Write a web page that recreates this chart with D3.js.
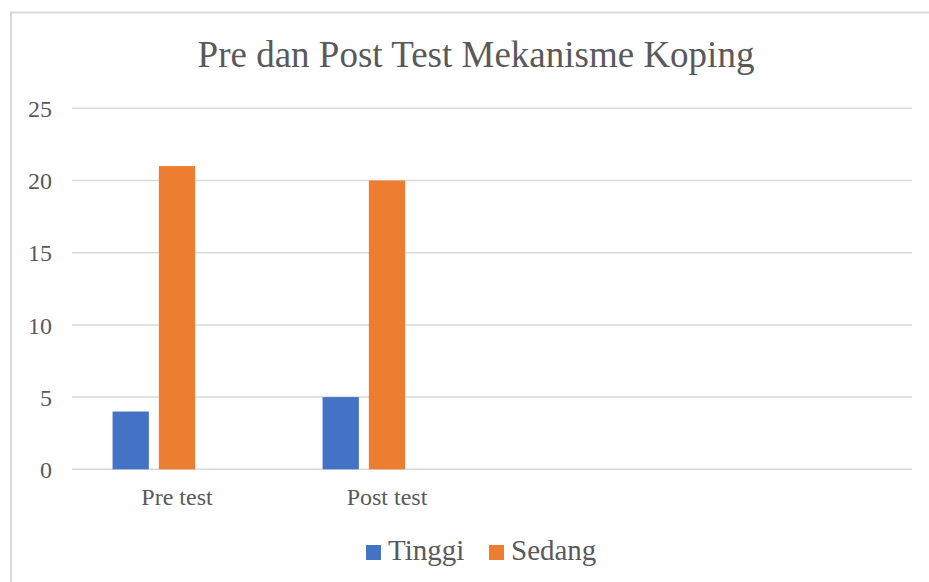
<!DOCTYPE html>
<html>
<head>
<meta charset="utf-8">
<script src="https://cdn.jsdelivr.net/npm/d3@7"></script>
<style>
  html, body { margin: 0; padding: 0; background: #fff; }
  svg { display: block; }
  text { font-family: "Liberation Serif", "Times New Roman", serif; fill: #595959; }
</style>
</head>
<body>
<svg id="chart" width="929" height="582"></svg>
<script>
// ---- data ----
const title = "Pre dan Post Test Mekanisme Koping";
const categories = ["Pre test", "Post test", "", " "];
const seriesNames = ["Tinggi", "Sedang"];
const tinggi = [4, 5, null, null];
const sedang = [21, 20, null, null];
const slots = ["Tinggi", "Sedang", "_empty"]; // cluster has a third, empty slot
const yTicks = [0, 5, 10, 15, 20, 25];
const colors = ["#4472C4", "#ED7D31"];

const svg = d3.select("#chart");

// chart frame
svg.append("path")
  .attr("d", "M11,600 L11,12.5 L940,12.5")
  .attr("fill", "none")
  .attr("stroke", "#d9d9d9")
  .attr("stroke-width", 2);

// scales
const y = d3.scaleLinear().domain([0, 25]).range([469.3, 108.3]);
const x0 = d3.scaleBand().domain(categories).range([72, 912]).paddingInner(0).paddingOuter(0);
const x1 = d3.scaleBand().domain(slots).range([0, x0.bandwidth()])
  .paddingInner(0.216).paddingOuter(0.876);

// gridlines
svg.append("g").selectAll("line").data(yTicks).join("line")
  .attr("x1", 72).attr("x2", 912)
  .attr("y1", d => y(d)).attr("y2", d => y(d))
  .attr("stroke", "#d9d9d9").attr("stroke-width", 1.5);

// y axis labels
const yAxis = d3.axisLeft(y).tickValues(yTicks).tickSize(0).tickPadding(0);
const ya = svg.append("g").attr("transform", "translate(52,0)").call(yAxis);
ya.select(".domain").remove();
ya.selectAll("text")
  .style("font-family", '"Liberation Serif", "Times New Roman", serif')
  .style("font-size", "24px")
  .attr("fill", "#595959")
  .attr("x", 0)
  .attr("dy", "0.34em");

// x axis labels
const xAxis = d3.axisBottom(x0).tickSize(0).tickPadding(0);
const xa = svg.append("g").attr("transform", "translate(0,505)").call(xAxis);
xa.select(".domain").remove();
xa.selectAll("text")
  .style("font-family", '"Liberation Serif", "Times New Roman", serif')
  .style("font-size", "24px")
  .attr("fill", "#595959")
  .attr("y", 0)
  .attr("dy", 0);

// bars
const seriesData = [tinggi, sedang];
seriesNames.forEach((name, si) => {
  svg.append("g").selectAll("rect")
    .data(categories.map((c, i) => ({ c, v: seriesData[si][i] })).filter(d => d.v != null))
    .join("rect")
    .attr("x", d => x0(d.c) + x1(name))
    .attr("width", x1.bandwidth())
    .attr("y", d => y(d.v))
    .attr("height", d => y(0) - y(d.v))
    .attr("fill", colors[si]);
});

// title
svg.append("text")
  .attr("x", 476).attr("y", 67)
  .attr("text-anchor", "middle")
  .style("font-size", "37px")
  .text(title);

// legend
const legendX = [366, 489];
seriesNames.forEach((name, i) => {
  const g = svg.append("g").attr("transform", `translate(${legendX[i]},545)`);
  g.append("rect").attr("width", 15).attr("height", 15).attr("fill", colors[i]);
  g.append("text").attr("x", 22).attr("y", 15).style("font-size", "29px").text(name);
});
</script>
</body>
</html>
